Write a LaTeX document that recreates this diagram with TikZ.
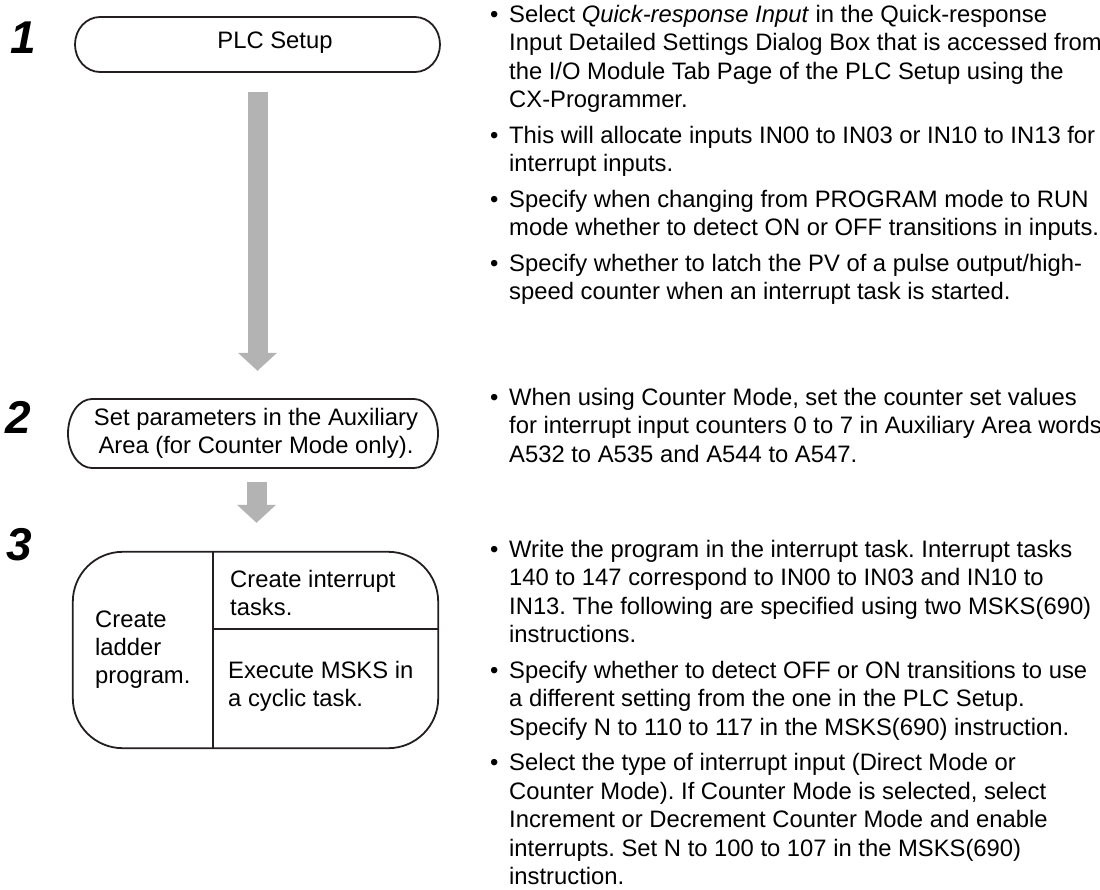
\documentclass[tikz,border=0pt]{standalone}
\usepackage{fontspec}
\setmainfont{Liberation Sans}
\usetikzlibrary{arrows.meta,calc}
\definecolor{ink}{RGB}{35,31,32}
\definecolor{arrowgray}{RGB}{179,179,179}
\newcommand{\bodyfont}{\fontsize{23.8}{28.5}\selectfont}
\newcommand{\boxfont}{\fontsize{23.8}{28}\selectfont}
\newcommand{\numfont}{\fontsize{46}{46}\selectfont\bfseries\itshape}
\newcommand{\txtblock}[1]{\parbox[t]{600pt}{\raggedright #1}}
\frenchspacing
\begin{document}
\begin{tikzpicture}[x=1pt,y=-1pt,
  outline/.style={draw=ink, line width=1.8pt},
  flowarrow/.style={draw=arrowgray, line width=20pt, -{Triangle[width=38pt,length=18pt]}},
  para/.style={anchor=base west, inner sep=0pt, font=\bodyfont, text=black},
  bul/.style={anchor=base west, inner sep=0pt, font=\bodyfont, text=black},
  boxpara/.style={anchor=base west, inner sep=0pt, font=\boxfont, text=black},
  boxtext/.style={inner sep=0pt, font=\boxfont, text=black},
  num/.style={anchor=base west, inner sep=0pt, font=\numfont, text=black}]
\useasboundingbox (0,0) rectangle (1100,889);

% step numbers
\node[num] (n1) at (10,53) {1};
\node[num] (n2) at (5,433) {2};
\node[num] (n3) at (6,560) {3};

% box 1
\node[boxtext, minimum width=365pt, minimum height=55pt] (box1) at (257.5,44.5) {};
\node[boxtext, anchor=base] (box1lbl) at (275,48) {PLC Setup};
\draw[outline] (100,17) -- (415,17)
  .. controls (428.8,17) and (440,29.3) .. (440,44.5)
  .. controls (440,59.7) and (428.8,72) .. (415,72) -- (100,72)
  .. controls (86.2,72) and (75,59.7) .. (75,44.5)
  .. controls (75,29.3) and (86.2,17) .. (100,17) -- cycle;

% box 2
\node[boxtext, align=center, minimum width=370pt, minimum height=69pt] (box2) at (256,433.5)
  {Set parameters in the Auxiliary\\Area (for Counter Mode only).};
\draw[outline] (92,399) -- (414,399)
  .. controls (427.2,399) and (438,414.5) .. (438,433.5)
  .. controls (438,452.5) and (427.2,468) .. (414,468) -- (92,468)
  .. controls (78.8,468) and (68,452.5) .. (68,433.5)
  .. controls (68,414.5) and (78.8,399) .. (92,399) -- cycle;

% box 3
\node[minimum width=365pt, minimum height=196pt, inner sep=0pt] (box3) at (255.5,650) {};
\draw[outline, rounded corners=50pt] (box3.north west) rectangle (box3.south east);
\coordinate (vtop) at (213,552);
\coordinate (vbot) at (213,748);
\coordinate (hmid) at (213,629);
\draw[outline] (vtop) -- (vbot);
\draw[outline] (hmid) -- (hmid -| box3.east);
\node[boxpara] (ladder) at (95,627) {\txtblock{Create\\ladder\\program.}};
\node[boxpara] (itask) at (230,587) {\txtblock{Create interrupt\\tasks.}};
\node[boxpara] (msks) at (228,678) {\txtblock{Execute MSKS in\\a cyclic task.}};

% gray flow arrows
\draw[flowarrow] ($(box1.south)+(0,20)$) -- ($(box2.north -| box1.south)+(0,-28)$);
\draw[flowarrow] ($(box2.south -| box1.south)+(-1,14)$) -- ($(box3.north -| box1.south)+(-1,-29)$);

% right column text
\node[bul] (b1) at (490,22) {•};
\node[para] (t1) at (509,22) {\txtblock{Select \textit{Quick-response Input} in the Quick-response\\Input Detailed Settings Dialog Box that is accessed from\\the I/O Module Tab Page of the PLC Setup using the\\CX-Programmer.}};
\node[bul] (b2) at (490,143) {•};
\node[para] (t2) at (509,143) {\txtblock{This will allocate inputs IN00 to IN03 or IN10 to IN13 for\\interrupt inputs.}};
\node[bul] (b3) at (490,207) {•};
\node[para] (t3) at (509,207) {\txtblock{Specify when changing from PROGRAM mode to RUN\\mode whether to detect ON or OFF transitions in inputs.}};
\node[bul] (b4) at (490,271) {•};
\node[para] (t4) at (509,271) {\txtblock{Specify whether to latch the PV of a pulse output/high-\\speed counter when an interrupt task is started.}};

\node[bul] (b5) at (490,405) {•};
\node[para] (t5) at (509,405) {\txtblock{When using Counter Mode, set the counter set values\\for interrupt input counters 0 to 7 in Auxiliary Area words\\A532 to A535 and A544 to A547.}};

\node[bul] (b6) at (490,557) {•};
\node[para] (t6) at (509,557) {\txtblock{Write the program in the interrupt task. Interrupt tasks\\140 to 147 correspond to IN00 to IN03 and IN10 to\\IN13. The following are specified using two MSKS(690)\\instructions.}};
\node[bul] (b7) at (490,678) {•};
\node[para] (t7) at (509,678) {\txtblock{Specify whether to detect OFF or ON transitions to use\\a different setting from the one in the PLC Setup.\\Specify N to 110 to 117 in the MSKS(690) instruction.}};
\node[bul] (b8) at (490,770.5) {•};
\node[para] (t8) at (509,770.5) {\txtblock{Select the type of interrupt input (Direct Mode or\\Counter Mode). If Counter Mode is selected, select\\Increment or Decrement Counter Mode and enable\\interrupts. Set N to 100 to 107 in the MSKS(690)\\instruction.}};
\end{tikzpicture}
\end{document}
